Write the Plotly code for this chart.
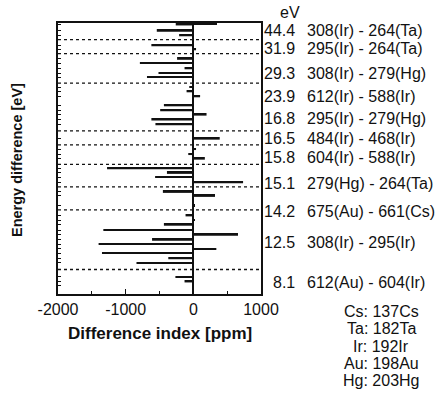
import plotly.graph_objects as go

# ---- data ----
# vertical position of each bar (row scale, 0 = top of the frame) and its difference index [ppm]
row_y = [1.0, 1.5, 7.8, 12.3,
         22.3, 26.3,
         35.8, 40.0, 45.3, 50.0, 54.0,
         64.0, 68.3, 73.3, 82.3, 87.3, 91.6, 96.6, 101.1,
         115.6,
         126.0, 131.0, 135.6,
         145.1, 149.8, 154.0, 159.3,
         168.8, 172.8, 182.8,
         192.3, 197.0, 201.6, 207.0, 211.6, 216.6, 221.0, 225.8, 230.0, 235.1, 239.8,
         253.8, 258.3, 262.8]
diff_ppm = [350, -260, -540, -210,
            -620, 40,
            -240, -790, -130, -515, -685,
            -60, -100, 100, -435, -490, 195, -620, -560,
            390,
            40, -75, 170,
            -1275, -390, -565, 735,
            -450, 320, 20,
            -115, 20, -435, -1330, 660, -610, -1400, 340, -1350, -370, -840,
            -265, -130, -20]

# dotted separators between transition groups (row scale)
separator_y = [16.6, 30.6, 60.0, 107.8, 121.8, 141.3, 163.8, 186.8, 246.3]

# right-hand labels
label_y = [7.3, 25.3, 50.3, 73.3, 95.3, 115.3, 134.3, 160.3, 188.3, 219.3, 259.3]
energy_ev = ["44.4", "31.9", "29.3", "23.9", "16.8", "16.5", "15.8", "15.1", "14.2", "12.5", "8.1"]
transitions = ["308(Ir) - 264(Ta)", "295(Ir) - 264(Ta)", "308(Ir) - 279(Hg)", "612(Ir) - 588(Ir)",
               "295(Ir) - 279(Hg)", "484(Ir) - 468(Ir)", "604(Ir) - 588(Ir)", "279(Hg) - 264(Ta)",
               "675(Au) - 661(Cs)", "308(Ir) - 295(Ir)", "612(Au) - 604(Ir)"]

nuclide_keys = ["Cs: 137Cs", "Ta: 182Ta", "Ir: 192Ir", "Au: 198Au", "Hg: 203Hg"]

x_ticks = [-2000, -1000, 0, 1000]
x_range = [-2000, 1000]
y_range = [270.8, 0]

# ---- figure ----
W, H = 448, 399
ML, MR, MT, MB = 58, 187, 23, 105
PW = W - ML - MR
PH = H - MT - MB
FONT = "Liberation Sans, Arial, Helvetica, sans-serif"


def px_x(px):
    return (px - ML) / PW


def px_y(py):
    return (H - MB - py) / PH


fig = go.Figure()

for sy in separator_y:
    fig.add_trace(go.Scatter(x=x_range, y=[sy, sy], mode="lines",
                             line=dict(color="#111", width=1.3, dash="dot"),
                             hoverinfo="skip", showlegend=False))

fig.add_trace(go.Bar(x=diff_ppm, y=row_y, orientation="h", width=1.9,
                     marker=dict(color="#111", line=dict(width=0)),
                     showlegend=False))

fig.update_layout(
    width=W, height=H,
    margin=dict(l=ML, r=MR, t=MT, b=MB, pad=0),
    paper_bgcolor="white", plot_bgcolor="white",
    barmode="overlay",
    font=dict(family=FONT, size=16, color="#111"),
    xaxis=dict(range=x_range, tickvals=x_ticks, ticktext=[str(v) for v in x_ticks],
               ticks="inside", ticklen=5, tickcolor="#111", tickwidth=1.3,
               minor=dict(dtick=500, ticks="inside", ticklen=3, tickcolor="#111"),
               showline=True, linecolor="#111", linewidth=1.5, mirror=True,
               showgrid=False, zeroline=True, zerolinecolor="#111", zerolinewidth=1.6,
               tickfont=dict(size=16, family=FONT)),
    yaxis=dict(range=y_range, showticklabels=False, tickvals=row_y,
               ticks="inside", ticklen=3, tickcolor="#111", tickwidth=1,
               showline=True, linecolor="#111", linewidth=1.5, mirror=True,
               showgrid=False, zeroline=False),
)

ann = []
ann.append(dict(x=px_x(160), y=px_y(333), xref="paper", yref="paper",
                text="<b>Difference index [ppm]</b>", showarrow=False,
                font=dict(size=17, family=FONT), xanchor="center", yanchor="middle"))
ann.append(dict(x=px_x(17), y=px_y(160), xref="paper", yref="paper",
                text="<b>Energy difference [eV]</b>", showarrow=False, textangle=-90,
                font=dict(size=14.5, family=FONT), xanchor="center", yanchor="middle"))
ann.append(dict(x=px_x(302), y=px_y(12), xref="paper", yref="paper", text="eV",
                showarrow=False, xanchor="right", yanchor="middle", font=dict(size=16)))
for ly, ev, tr in zip(label_y, energy_ev, transitions):
    ann.append(dict(x=px_x(297), y=ly, xref="paper", yref="y", text=ev, showarrow=False,
                    xanchor="right", yanchor="middle", font=dict(size=16)))
    ann.append(dict(x=px_x(305), y=ly, xref="paper", yref="y", text=tr, showarrow=False,
                    xanchor="left", yanchor="middle", font=dict(size=16)))
for i, k in enumerate(nuclide_keys):
    ann.append(dict(x=px_x(381), y=px_y(311 + 17.5 * i), xref="paper", yref="paper",
                    text=k, showarrow=False, xanchor="center", yanchor="middle",
                    font=dict(size=16)))
fig.update_layout(annotations=ann)

fig.write_html("out.html")
